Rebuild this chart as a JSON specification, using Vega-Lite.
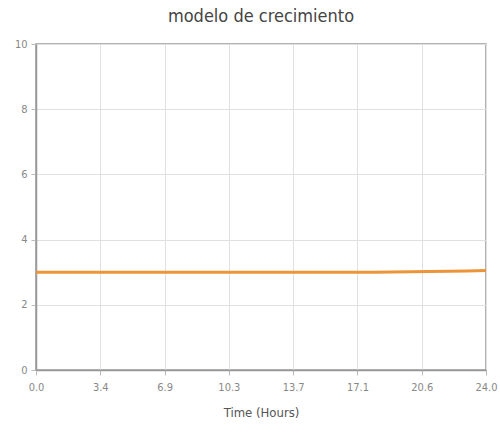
{
  "$schema": "https://vega.github.io/schema/vega-lite/v6.json",
  "autosize": "none",
  "width": 450,
  "height": 326,
  "padding": {"left": 36, "top": 44, "right": 14, "bottom": 66},
  "background": "white",
  "title": {"text": "modelo de crecimiento", "fontSize": 18, "font": "DejaVu Sans Condensed", "fontWeight": "normal", "color": "#444", "offset": 12, "anchor": "middle"},
  "config": {"view": {"stroke": "#999", "strokeWidth": 1.5}},
  "data": {"values": [
    {"t": 0, "v": 3.0}, {"t": 2, "v": 3.0}, {"t": 4, "v": 3.0}, {"t": 6, "v": 3.0},
    {"t": 8, "v": 3.0}, {"t": 10, "v": 3.0}, {"t": 12, "v": 3.0}, {"t": 14, "v": 3.0},
    {"t": 16, "v": 3.0}, {"t": 18, "v": 3.0}, {"t": 19, "v": 3.005}, {"t": 20, "v": 3.01},
    {"t": 21, "v": 3.02}, {"t": 22, "v": 3.03}, {"t": 23, "v": 3.04}, {"t": 24, "v": 3.05}
  ]},
  "mark": {"type": "line", "color": "#ec9438", "strokeWidth": 3},
  "encoding": {
    "x": {"field": "t", "type": "quantitative", "scale": {"domain": [0, 24], "nice": false},
      "axis": {"title": "Time (Hours)", "values": [0, 3.428571, 6.857143, 10.285714, 13.714286, 17.142857, 20.571429, 24], "format": ".1f",
        "labelFont": "DejaVu Sans Condensed", "labelFontSize": 11, "labelColor": "#888", "labelPadding": 6,
        "titleFont": "DejaVu Sans Condensed", "titleFontSize": 13, "titleFontWeight": "normal", "titleColor": "#555", "titlePadding": 14,
        "domainColor": "#999", "domainWidth": 1.5, "tickColor": "#bbb", "tickSize": 5, "gridColor": "#e0e0e0", "labelFlush": false}},
    "y": {"field": "v", "type": "quantitative", "scale": {"domain": [0, 10], "nice": false},
      "axis": {"title": null, "values": [0, 2, 4, 6, 8, 10],
        "labelFont": "DejaVu Sans Condensed", "labelFontSize": 11, "labelColor": "#888", "labelPadding": 4,
        "domainColor": "#999", "domainWidth": 1.5, "tickColor": "#bbb", "tickSize": 5, "gridColor": "#e0e0e0"}}
  }
}
